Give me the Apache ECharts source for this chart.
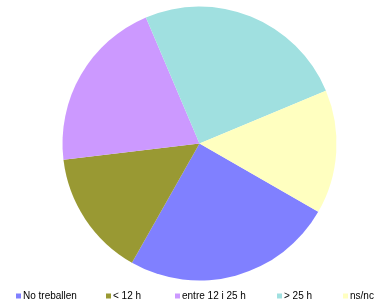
<!DOCTYPE html>
<html><head><meta charset="utf-8">
<script src="https://cdn.jsdelivr.net/npm/echarts@6/dist/echarts.min.js"></script>
<style>html,body{margin:0;padding:0;background:#fff}#c{width:377px;height:304px}</style>
</head><body><div id="c"></div>
<script>
const categories = ["No treballen", "< 12 h", "entre 12 i 25 h", "> 25 h", "ns/nc"];
const values = [24.9, 14.9, 20.5, 25.1, 14.6];
const colors = ["#8080FF", "#999933", "#CC99FF", "#A0E0E0", "#FFFFC0"];
const legendLeft = [16, 106, 175, 277, 343];

const chart = echarts.init(document.getElementById('c'), null, {renderer: 'canvas'});
const legends = categories.map((name, i) => ({
  data: [name],
  left: legendLeft[i],
  top: 291,
  padding: 0,
  itemWidth: 5,
  itemHeight: 5,
  icon: 'rect',
  selectedMode: false,
  textStyle: {fontFamily: 'Liberation Sans, Arial, sans-serif', fontSize: 10, color: '#000', padding: [0,0,0,-3]}
}));
chart.setOption({
  animation: false,
  color: colors,
  legend: legends,
  series: [{
    type: 'pie',
    center: [199.5, 143.5],
    radius: 137,
    startAngle: 330.1,
    clockwise: true,
    label: {show: false},
    labelLine: {show: false},
    emphasis: {disabled: true},
    itemStyle: {borderWidth: 0},
    data: categories.map((n, i) => ({name: n, value: values[i]}))
  }]
});
</script></body></html>
